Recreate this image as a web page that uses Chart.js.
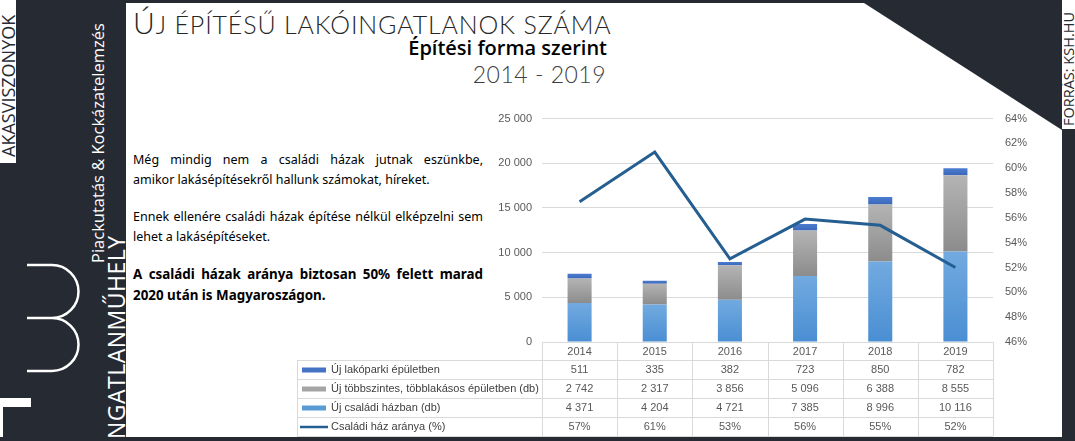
<!DOCTYPE html>
<html lang="hu">
<head>
<meta charset="UTF-8">
<title>Új építésű lakóingatlanok száma</title>
<script src="https://cdn.jsdelivr.net/npm/chart.js"></script>
<style>
    body {
        margin: 0;
        width: 1075px;
        height: 441px;
        overflow: hidden;
        background: #262b33;
        position: relative;
        font-family: "Open Sans", sans-serif;
    }
    .panel {
        position: absolute;
        left: 126px;
        top: 3px;
        width: 936px;
        height: 434px;
        background: #ffffff;
        clip-path: polygon(0 0, 738px 0, 936px 127px, 936px 434px, 0 434px);
    }
    .vtext {
        position: absolute;
        writing-mode: vertical-rl;
        transform: rotate(180deg);
        white-space: nowrap;
    }
    .tag {
        position: absolute;
        left: 0;
        top: 0;
        width: 16px;
        height: 163px;
        background: #ffffff;
    }
    .source {
        position: absolute;
        left: 1062px;
        top: 0;
        width: 13px;
        height: 129px;
        background: #ffffff;
    }
    .title {
        position: absolute;
        left: 133px;
        top: 2px;
        color: #262626;
        font-family: Lato, "Open Sans", sans-serif;
        font-weight: 300;
        line-height: 40px;
        letter-spacing: 0.85px;
        white-space: nowrap;
    }
    .subtitle {
        position: absolute;
        right: 468px;
        top: 34px;
        font-size: 20px;
        font-weight: 600;
        color: #000;
        white-space: nowrap;
    }
    .years {
        position: absolute;
        right: 469px;
        top: 60px;
        font-family: Lato, "Open Sans", sans-serif;
        font-weight: 300;
        font-size: 23px;
        letter-spacing: 0.5px;
        color: #404040;
        white-space: nowrap;
    }
    .text {
        position: absolute;
        left: 133px;
        top: 150px;
        width: 350px;
        font-family: "Noto Sans", sans-serif;
        font-size: 12.5px;
        line-height: 20px;
        color: #000;
    }
    .text .full { text-align: justify; text-align-last: justify; }
    .text .gap { height: 17px; }
    .text b { font-size: 13.4px; }
</style>
</head>
<body>
    <!-- left side logo area -->
    <div class="tag">
        <div class="vtext" style="left:0; top:0; height:157px; width:16px; line-height:16px; font-size:18px; color:#262b33;">AKASVISZONYOK</div>
    </div>
    <div class="vtext" style="left:88px; top:20px; height:243px; width:20px; line-height:20px; font-size:16.5px; color:#fff;">Piackutatás &amp; Kockázatelemzés</div>
    <div class="vtext" style="left:104px; top:180px; height:266px; width:24px; line-height:24px; font-size:23px; letter-spacing:0.5px; color:#fff;">INGATLANMŰHELY</div>
    <svg style="position:absolute; left:0; top:250px;" width="100" height="191">
        <path d="M27,15 H52 A26.5,26.5 0 0 1 52,68 H27 M52,68 A26.5,26.5 0 0 1 52,121 H27" fill="none" stroke="#fff" stroke-width="2.5"/>
        <rect x="0" y="148" width="31" height="9" fill="#fff"/>
        <rect x="0" y="157" width="3" height="30" fill="#fff"/>
    </svg>

    <div class="panel"></div>
    <div class="source">
        <div class="vtext" style="left:0; top:0; height:126px; width:13px; line-height:13px; font-size:14.5px; color:#262b33;">FORRÁS: KSH.HU</div>
    </div>

    <div class="title"><span style="font-size:30px">Ú</span><span style="font-size:25px">J ÉPÍTÉSŰ LAKÓINGATLANOK SZÁMA</span></div>
    <div class="subtitle">Építési forma szerint</div>
    <div class="years">2014 - 2019</div>

    <div class="text">
        <div class="full">Még mindig nem a családi házak jutnak eszünkbe,</div>
        <div>amikor lakásépítésekről hallunk számokat, híreket.</div>
        <div class="gap"></div>
        <div class="full">Ennek ellenére családi házak építése nélkül elképzelni sem</div>
        <div>lehet a lakásépítéseket.</div>
        <div class="gap"></div>
        <div class="full"><b>A családi házak aránya biztosan 50% felett marad</b></div>
        <div><b>2020 után is Magyaroszágon.</b></div>
    </div>

    <div style="position:absolute; left:290px; top:100px; width:760px; height:340px;">
        <canvas id="lakasChart"></canvas>
    </div>

<script>
    const years = ['2014', '2015', '2016', '2017', '2018', '2019'];
    const lakopark = [511, 335, 382, 723, 850, 782];
    const tobbszintes = [2742, 2317, 3856, 5096, 6388, 8555];
    const csaladi = [4371, 4204, 4721, 7385, 8996, 10116];
    // share of family houses (table shows rounded values)
    const csaladiArany = [57.3, 61.3, 52.7, 55.9, 55.4, 52.0];
    const seriesNames = [
        'Új lakóparki épületben',
        'Új többszintes, többlakásos épületben (db)',
        'Új családi házban (db)',
        'Családi ház aránya (%)'
    ];
    const leftTicks = [0, 5000, 10000, 15000, 20000, 25000];
    const rightTicks = [46, 48, 50, 52, 54, 56, 58, 60, 62, 64];

    const stackData = [csaladi, tobbszintes, lakopark];

    function fmt(v) {
        return String(v).replace(/\B(?=(\d{3})+(?!\d))/g, ' ');
    }

    // gradient for one stacked segment, lighter at the top
    function segGradient(idx, topColor, bottomColor) {
        return (context) => {
            const chart = context.chart;
            const ys = chart.scales.y;
            if (context.type !== 'data' || !ys) return topColor;
            const i = context.dataIndex;
            let base = 0;
            for (let d = 0; d < idx; d++) base += stackData[d][i];
            const y0 = ys.getPixelForValue(base + stackData[idx][i]);
            const y1 = ys.getPixelForValue(base);
            if (!isFinite(y0) || !isFinite(y1)) return topColor;
            const g = chart.ctx.createLinearGradient(0, y0, 0, y1);
            g.addColorStop(0, topColor);
            g.addColorStop(1, bottomColor);
            return g;
        };
    }

    const tablePlugin = {
        id: 'dataTable',
        afterDraw(chart) {
            const { ctx, chartArea: a, scales: { x } } = chart;
            const n = years.length;
            const w = (a.right - a.left) / n;
            const top = a.bottom;
            const hdr = 18, rowH = 19;
            const labelLeft = 7;
            const rows = [
                { name: seriesNames[0], values: lakopark.map(fmt), color: '#4472c4', kind: 'bar' },
                { name: seriesNames[1], values: tobbszintes.map(fmt), color: '#a5a5a5', kind: 'bar' },
                { name: seriesNames[2], values: csaladi.map(fmt), color: '#5b9bd5', kind: 'bar' },
                { name: seriesNames[3], values: csaladiArany.map(v => Math.round(v) + '%'), color: '#255e91', kind: 'line' }
            ];
            const bottom = top + hdr + rowH * rows.length;

            ctx.save();
            ctx.strokeStyle = '#d9d9d9';
            ctx.lineWidth = 1;
            ctx.beginPath();
            for (let r = 0; r <= rows.length; r++) {
                const yy = Math.round(top + hdr + r * rowH) + 0.5;
                ctx.moveTo(labelLeft, yy);
                ctx.lineTo(a.right, yy);
            }
            ctx.moveTo(labelLeft + 0.5, top + hdr);
            ctx.lineTo(labelLeft + 0.5, bottom);
            for (let k = 0; k <= n; k++) {
                const xx = Math.round(a.left + k * w) + 0.5;
                ctx.moveTo(xx, top);
                ctx.lineTo(xx, bottom);
            }
            ctx.stroke();

            ctx.font = '11px "Liberation Sans", Arial, sans-serif';
            ctx.textBaseline = 'middle';
            ctx.fillStyle = '#595959';
            ctx.textAlign = 'center';
            years.forEach((yr, i) => ctx.fillText(yr, x.getPixelForValue(i), top + hdr / 2 + 1));

            rows.forEach((row, r) => {
                const cy = top + hdr + r * rowH + rowH / 2 + 0.5;
                ctx.fillStyle = '#595959';
                ctx.textAlign = 'center';
                row.values.forEach((v, i) => ctx.fillText(v, x.getPixelForValue(i), cy));
                if (row.kind === 'bar') {
                    ctx.fillStyle = row.color;
                    ctx.fillRect(labelLeft + 5, cy - 2.5, 24, 5);
                } else {
                    ctx.strokeStyle = row.color;
                    ctx.lineWidth = 2.5;
                    ctx.beginPath();
                    ctx.moveTo(labelLeft + 3, cy);
                    ctx.lineTo(labelLeft + 31, cy);
                    ctx.stroke();
                }
                ctx.fillStyle = '#404040';
                ctx.textAlign = 'left';
                ctx.fillText(row.name, labelLeft + 34, cy);
            });
            ctx.restore();
        }
    };

    Chart.defaults.font.family = '"Liberation Sans", Arial, sans-serif';
    Chart.defaults.font.size = 11;
    Chart.defaults.color = '#595959';

    const ctx = document.getElementById('lakasChart').getContext('2d');
    new Chart(ctx, {
        type: 'bar',
        data: {
            labels: years,
            datasets: [
                {
                    label: seriesNames[2],
                    data: csaladi,
                    backgroundColor: segGradient(0, '#72aae0', '#4a8ed3'),
                    stack: 'lakas',
                    order: 2
                },
                {
                    label: seriesNames[1],
                    data: tobbszintes,
                    backgroundColor: segGradient(1, '#b4b4b4', '#8c8c8c'),
                    stack: 'lakas',
                    order: 2
                },
                {
                    label: seriesNames[0],
                    data: lakopark,
                    backgroundColor: segGradient(2, '#4c7dd0', '#3b67ba'),
                    stack: 'lakas',
                    order: 2
                },
                {
                    type: 'line',
                    label: seriesNames[3],
                    data: csaladiArany,
                    yAxisID: 'y1',
                    borderColor: '#255e91',
                    borderWidth: 3,
                    pointRadius: 0,
                    tension: 0,
                    order: 1
                }
            ]
        },
        options: {
            responsive: true,
            maintainAspectRatio: false,
            animation: false,
            layout: { padding: { left: 202, right: 12, top: 17, bottom: 98 } },
            datasets: {
                bar: { categoryPercentage: 0.8, barPercentage: 0.4 }
            },
            plugins: {
                legend: { display: false },
                tooltip: { enabled: false }
            },
            scales: {
                x: {
                    display: false,
                    stacked: true
                },
                y: {
                    stacked: true,
                    min: 0,
                    max: 25000,
                    afterFit: (scale) => { scale.width = 50; },
                    afterBuildTicks: (scale) => { scale.ticks = leftTicks.map(v => ({ value: v })); },
                    ticks: {
                        padding: 10,
                        callback: (v) => fmt(v)
                    },
                    grid: { color: '#d9d9d9', drawTicks: false },
                    border: { display: false }
                },
                y1: {
                    position: 'right',
                    min: 46,
                    max: 64,
                    afterFit: (scale) => { scale.width = 45; },
                    afterBuildTicks: (scale) => { scale.ticks = rightTicks.map(v => ({ value: v })); },
                    ticks: {
                        padding: 12,
                        callback: (v) => v + '%'
                    },
                    grid: { display: false, drawTicks: false },
                    border: { display: false }
                }
            }
        },
        plugins: [tablePlugin]
    });
</script>
</body>
</html>
